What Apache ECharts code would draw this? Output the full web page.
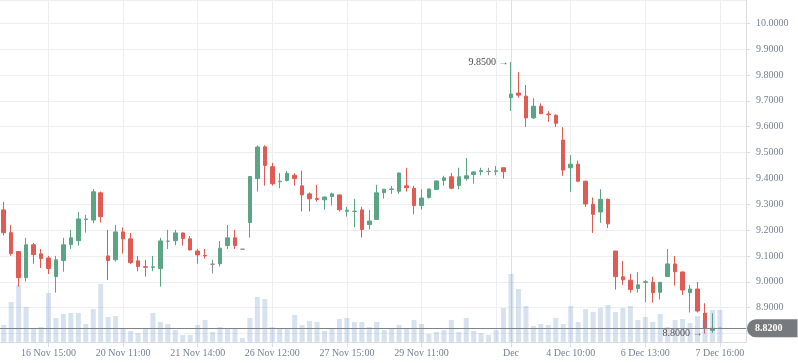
<!DOCTYPE html>
<html><head><meta charset="utf-8">
<script src="https://cdn.jsdelivr.net/npm/echarts@6/dist/echarts.min.js"></script>
<style>html,body{margin:0;padding:0;background:#fff}#c{width:798px;height:363px}</style>
</head><body><div id="c"></div>
<script>
const opens  = [9.278,9.190,9.117,9.016,9.143,9.108,9.092,9.020,9.082,9.144,9.159,9.241,9.239,9.344,9.100,9.085,9.193,9.166,9.081,9.058,9.056,9.051,9.157,9.159,9.189,9.166,9.119,9.102,9.068,9.070,9.140,9.170,9.126,9.229,9.399,9.522,9.445,9.387,9.392,9.412,9.371,9.340,9.322,9.317,9.330,9.336,9.273,9.272,9.278,9.221,9.241,9.345,9.357,9.350,9.371,9.362,9.295,9.326,9.357,9.392,9.406,9.372,9.399,9.415,9.426,9.427,9.427,9.441,9.712,9.730,9.718,9.634,9.679,9.649,9.644,9.548,9.441,9.455,9.389,9.300,9.270,9.319,9.119,9.019,9.006,8.974,8.998,8.998,8.959,9.020,9.069,9.038,8.958,8.972,8.879,8.812,8.820];
const closes = [9.190,9.109,9.016,9.143,9.105,9.090,9.051,9.085,9.143,9.170,9.243,9.243,9.348,9.252,9.082,9.193,9.166,9.074,9.059,9.056,9.058,9.158,9.157,9.189,9.167,9.123,9.104,9.100,9.068,9.130,9.170,9.140,9.126,9.407,9.521,9.450,9.379,9.389,9.420,9.399,9.336,9.321,9.318,9.328,9.340,9.279,9.277,9.273,9.202,9.235,9.344,9.358,9.359,9.421,9.364,9.295,9.324,9.359,9.390,9.402,9.362,9.406,9.410,9.425,9.430,9.427,9.429,9.426,9.726,9.722,9.634,9.679,9.650,9.646,9.613,9.432,9.455,9.389,9.301,9.261,9.319,9.224,9.020,9.008,8.970,8.988,9.000,8.958,8.998,9.069,9.039,8.968,8.972,8.887,8.820,8.820,8.820];
const lows   = [9.179,9.101,8.981,9.001,9.069,9.053,9.030,8.958,9.039,9.127,9.140,9.190,9.226,9.229,9.007,9.078,9.109,9.069,9.041,9.020,9.041,8.981,9.127,9.141,9.140,9.121,9.070,9.090,9.032,9.059,9.127,9.127,9.126,9.171,9.349,9.372,9.372,9.362,9.388,9.372,9.272,9.272,9.310,9.279,9.295,9.272,9.252,9.210,9.171,9.202,9.240,9.322,9.340,9.340,9.349,9.261,9.279,9.322,9.356,9.372,9.358,9.358,9.392,9.380,9.412,9.412,9.412,9.399,9.661,9.712,9.599,9.630,9.649,9.619,9.599,9.410,9.348,9.385,9.290,9.189,9.228,9.208,8.970,8.988,8.958,8.958,8.921,8.919,8.931,9.020,8.985,8.949,8.881,8.881,8.800,8.803,8.820];
const highs  = [9.309,9.220,9.119,9.170,9.150,9.127,9.100,9.100,9.170,9.201,9.270,9.259,9.359,9.349,9.201,9.220,9.210,9.189,9.100,9.085,9.100,9.170,9.201,9.201,9.190,9.177,9.127,9.127,9.085,9.158,9.220,9.201,9.126,9.408,9.528,9.528,9.460,9.420,9.429,9.420,9.430,9.346,9.375,9.329,9.345,9.337,9.290,9.321,9.290,9.278,9.375,9.358,9.371,9.422,9.441,9.371,9.358,9.360,9.391,9.410,9.421,9.441,9.479,9.427,9.441,9.441,9.448,9.443,9.850,9.811,9.761,9.710,9.690,9.660,9.648,9.598,9.490,9.469,9.391,9.326,9.358,9.322,9.119,9.081,9.030,9.037,9.006,9.019,8.999,9.127,9.100,9.039,8.988,8.999,8.917,8.878,8.820];
const volumes = [17,40,57,35,14,15,49,24,28,29,29,18,33,58,25,26,14,11,9,13,29,20,18,12,7,7,17,22,10,15,13,13,4,24,45,43,15,13,13,27,17,21,20,11,13,23,24,20,20,15,20,12,13,17,13,22,18,8,10,12,22,10,24,11,9,7,12,34,68,53,36,16,18,17,24,18,36,20,33,30,34,37,30,34,36,22,25,20,28,15,22,23,19,26,22,32,32];
const gridIndex  = [6,16,26,36,46,56,66,76,86,96];
const tickIndex  = [6,16,26,36,46,56,68,76,86,96];
const tickLabels = ['16 Nov 15:00','20 Nov 11:00','21 Nov 14:00','26 Nov 12:00','27 Nov 15:00','29 Nov 11:00','Dec','4 Dec 10:00','6 Dec 13:00','7 Dec 16:00'];
const monthStart = 68;
const lastPrice = 8.82;

const UP = '#5ba584', DOWN = '#e05b53', FLAT = '#8a8d92';
const FONT = 'Liberation Serif';
const n = opens.length, padRight = 3;
const cats = Array.from({length: n + padRight}, (_, i) => String(i));
const labelOf = {};
tickIndex.forEach((k, j) => { labelOf[k] = tickLabels[j]; });
const showTick = (i) => labelOf[i] !== undefined;
const showGrid = (i) => gridIndex.indexOf(i) >= 0;
const candles = opens.map((o, i) => {
  const item = {value: [o, closes[i], lows[i], highs[i]]};
  if (o === closes[i]) item.itemStyle = {color: FLAT, color0: FLAT, borderColor: FLAT, borderColor0: FLAT};
  return item;
});

const chart = echarts.init(document.getElementById('c'));
chart.setOption({
  animation: false,
  backgroundColor: '#fff',
  grid: {left: 0, right: 52, top: 0, bottom: 21},
  xAxis: {
    type: 'category', data: cats, boundaryGap: true,
    axisLine: {lineStyle: {color: '#d9dce1'}},
    axisTick: {show: true, interval: (i) => showTick(i), alignWithLabel: true, length: 5, lineStyle: {color: '#d9dce1'}},
    axisLabel: {interval: (i) => showTick(i), formatter: (v) => labelOf[+v] || '', color: '#76808f', fontFamily: FONT, fontSize: 10, margin: 6},
    splitLine: {show: true, interval: (i) => showGrid(i), alignWithLabel: true, lineStyle: {color: '#eceef1'}}
  },
  yAxis: [{
    type: 'value', position: 'right', min: 8.767, max: 10.09, splitNumber: 13,
    axisLine: {show: true, lineStyle: {color: '#d9dce1'}},
    axisTick: {show: true, length: 4, lineStyle: {color: '#d9dce1'}},
    axisLabel: {color: '#76808f', fontFamily: FONT, fontSize: 10, margin: 10, showMinLabel: false, showMaxLabel: false,
      formatter: (v) => v.toFixed(4)},
    splitLine: {lineStyle: {color: '#eceef1'}}
  }, {
    type: 'value', min: 0, max: 342, show: false, splitLine: {show: false}
  }],
  series: [{
    type: 'candlestick', data: candles, barWidth: 4, z: 2,
    itemStyle: {color: UP, color0: DOWN, borderColor: UP, borderColor0: DOWN, borderWidth: 1},
    markPoint: {
      symbol: 'circle', symbolSize: 1, itemStyle: {color: 'rgba(0,0,0,0)'}, silent: true,
      label: {show: true, position: 'left', distance: 2, color: '#4a4a4a', fontFamily: FONT, fontSize: 10,
        formatter: (p) => Number(p.value).toFixed(4) + ' \u2192'},
      data: [{type: 'max', valueDim: 'highest'}, {type: 'min', valueDim: 'lowest'}]
    },
    markLine: {
      symbol: ['none', 'none'], silent: true, animation: false,
      lineStyle: {color: '#7f8287', type: 'solid', width: 1},
      label: {position: 'end', distance: 1, formatter: () => lastPrice.toFixed(4), color: '#fff', backgroundColor: '#76797e',
        padding: [4, 15, 4, 8], borderRadius: [9, 0, 0, 9], fontFamily: FONT, fontSize: 10, fontWeight: 'bold'},
      data: [{yAxis: lastPrice}]
    }
  }, {
    type: 'bar', xAxisIndex: 0, yAxisIndex: 1, data: volumes, barWidth: 5, z: 3, silent: true,
    itemStyle: {color: 'rgba(96,140,200,0.25)'},
    markLine: {
      z: 1, symbol: ['none', 'none'], silent: true, animation: false, label: {show: false},
      lineStyle: {color: '#dcdfe3', type: 'solid', width: 1},
      data: [{xAxis: String(monthStart)}]
    }
  }]
});
</script></body></html>
